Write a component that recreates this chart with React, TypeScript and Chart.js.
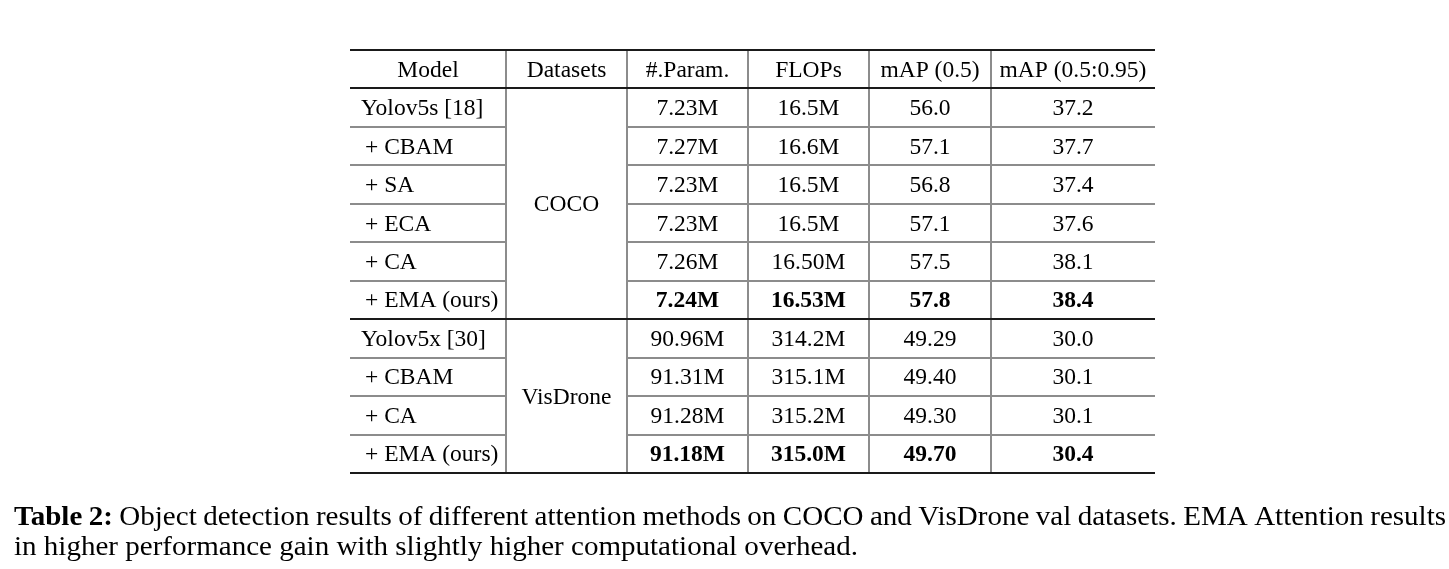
import React, { useEffect, useRef } from "react";
import { Chart, registerables } from "chart.js";

Chart.register(...registerables);

// ---- data ----
const headers = ["Model", "Datasets", "#.Param.", "FLOPs", "mAP (0.5)", "mAP (0.5:0.95)"];
const models = [
  "Yolov5s [18]", "+ CBAM", "+ SA", "+ ECA", "+ CA", "+ EMA (ours)",
  "Yolov5x [30]", "+ CBAM", "+ CA", "+ EMA (ours)",
];
const datasets = ["COCO", "VisDrone"];
const datasetRowCounts = [6, 4];
const params = ["7.23M", "7.27M", "7.23M", "7.23M", "7.26M", "7.24M", "90.96M", "91.31M", "91.28M", "91.18M"];
const flops = ["16.5M", "16.6M", "16.5M", "16.5M", "16.50M", "16.53M", "314.2M", "315.1M", "315.2M", "315.0M"];
const map50 = ["56.0", "57.1", "56.8", "57.1", "57.5", "57.8", "49.29", "49.40", "49.30", "49.70"];
const map5095 = ["37.2", "37.7", "37.4", "37.6", "38.1", "38.4", "30.0", "30.1", "30.1", "30.4"];
const boldRows = [5, 9];
const captionLabel = "Table 2:";
const captionLines = [
  "Object detection results of different attention methods on COCO and VisDrone val datasets. EMA Attention results",
  "in higher performance gain with slightly higher computational overhead.",
];

// ---- layout (pixel units on the chart's scales) ----
const W = 1449;
const H = 569;
const colEdges = [350, 506, 627, 748, 869, 991, 1155];
const tableTop = 50;
const tableBottom = 473;
const FONT = '"Liberation Serif", "Times New Roman", serif';
const CELL_SIZE = 23.5;
const CAP_SIZE = 27;
const CAP_LEFT = 14;
const CAP_RIGHT = 1446;
const CAP_LINE2_RIGHT = 858;
const CAP_BASE1 = 525;
const CAP_BASE2 = 555;
const DARK = "#1a1a1a";
const GREY = "#8c8c8c";

const tablePlugin = {
  id: "tablePlugin",
  beforeDraw(chart: any) {
    const ctx: CanvasRenderingContext2D = chart.ctx;
    const xs = chart.scales.x;
    const ys = chart.scales.y;
    const px = (v: number) => xs.getPixelForValue(v);
    const py = (v: number) => ys.getPixelForValue(v);
    const nRows = models.length + 1;
    const rowH = (tableBottom - tableTop) / nRows;
    const rowTop = (i: number) => tableTop + i * rowH; // i=0 header

    ctx.save();
    ctx.fillStyle = "#ffffff";
    ctx.fillRect(0, 0, chart.width, chart.height);

    // grey interior row lines (not through Datasets column)
    ctx.strokeStyle = GREY;
    ctx.lineWidth = 2;
    for (let r = 2; r <= models.length; r++) {
      if (r === datasetRowCounts[0] + 1) continue;
      const y = Math.round(py(rowTop(r)));
      ctx.beginPath();
      ctx.moveTo(px(colEdges[0]), y);
      ctx.lineTo(px(colEdges[1]), y);
      ctx.moveTo(px(colEdges[2]), y);
      ctx.lineTo(px(colEdges[6]), y);
      ctx.stroke();
    }
    // vertical grey lines
    for (let c = 1; c < colEdges.length - 1; c++) {
      const x = Math.round(px(colEdges[c]));
      ctx.beginPath();
      ctx.moveTo(x, py(tableTop));
      ctx.lineTo(x, py(tableBottom));
      ctx.stroke();
    }
    // dark rules
    ctx.strokeStyle = DARK;
    ctx.lineWidth = 2;
    [0, 1, datasetRowCounts[0] + 1, nRows].forEach((r) => {
      const y = Math.round(py(rowTop(r)));
      ctx.beginPath();
      ctx.moveTo(px(colEdges[0]), y);
      ctx.lineTo(px(colEdges[6]), y);
      ctx.stroke();
    });

    // text
    ctx.fillStyle = "#000000";
    ctx.textBaseline = "alphabetic";
    const base = (r: number) => py(rowTop(r) + rowH / 2 + 7.5);
    const center = (c: number) => px((colEdges[c] + colEdges[c + 1]) / 2);
    const cellFont = (bold: boolean) => `${bold ? "bold " : ""}${CELL_SIZE}px ${FONT}`;

    ctx.font = cellFont(false);
    ctx.textAlign = "center";
    headers.forEach((h, c) => ctx.fillText(h, center(c), base(0)));

    const cols = [params, flops, map50, map5095];
    models.forEach((m, i) => {
      const r = i + 1;
      const bold = boldRows.includes(i);
      ctx.font = cellFont(false);
      ctx.textAlign = "left";
      const indent = m.startsWith("+") ? 15 : 11;
      ctx.fillText(m, px(colEdges[0] + indent), base(r));
      ctx.textAlign = "center";
      ctx.font = cellFont(bold);
      cols.forEach((arr, k) => ctx.fillText(arr[i], center(k + 2), base(r)));
    });

    // merged dataset cells
    ctx.font = cellFont(false);
    ctx.textAlign = "center";
    let start = 1;
    datasets.forEach((d, k) => {
      const n = datasetRowCounts[k];
      const mid = rowTop(start) + (n * rowH) / 2;
      ctx.fillText(d, center(1), py(mid + 7.5));
      start += n;
    });

    // caption: line 2 natural (horizontally fitted), line 1 justified
    ctx.textAlign = "left";
    const regular = `${CAP_SIZE}px ${FONT}`;
    const boldF = `bold ${CAP_SIZE}px ${FONT}`;
    ctx.font = regular;
    const w2 = ctx.measureText(captionLines[1]).width;
    const sx = (CAP_LINE2_RIGHT - CAP_LEFT) / w2;

    const words: { t: string; bold: boolean }[] = [
      ...captionLabel.split(" ").map((t) => ({ t, bold: true })),
      ...captionLines[0].split(" ").map((t) => ({ t, bold: false })),
    ];
    const widths = words.map((w) => {
      ctx.font = w.bold ? boldF : regular;
      return ctx.measureText(w.t).width * sx;
    });
    const total = widths.reduce((a, b) => a + b, 0);
    const gap = (CAP_RIGHT - CAP_LEFT - total) / (words.length - 1);
    let x = CAP_LEFT;
    words.forEach((w, i) => {
      ctx.save();
      ctx.translate(px(x), py(CAP_BASE1));
      ctx.scale(sx, 1);
      ctx.font = w.bold ? boldF : regular;
      ctx.fillText(w.t, 0, 0);
      ctx.restore();
      x += widths[i] + gap;
    });

    ctx.save();
    ctx.translate(px(CAP_LEFT), py(CAP_BASE2));
    ctx.scale(sx, 1);
    ctx.font = regular;
    ctx.fillText(captionLines[1], 0, 0);
    ctx.restore();

    ctx.restore();
  },
};

export default function App() {
  const ref = useRef<HTMLCanvasElement | null>(null);
  useEffect(() => {
    document.body.style.margin = "0";
    if (!ref.current) return;
    const chart = new Chart(ref.current, {
      type: "scatter",
      data: { datasets: [{ data: [], pointRadius: 0 }] },
      options: {
        animation: false,
        responsive: false,
        layout: { padding: 0 },
        plugins: { legend: { display: false }, tooltip: { enabled: false } },
        scales: {
          x: { type: "linear", min: 0, max: W, display: false },
          y: { type: "linear", min: 0, max: H, reverse: true, display: false },
        },
      },
      plugins: [tablePlugin],
    });
    let alive = true;
    const fonts: any = (document as any).fonts;
    if (fonts && fonts.load) {
      Promise.all([
        fonts.load(`${CELL_SIZE}px "Liberation Serif"`),
        fonts.load(`bold ${CELL_SIZE}px "Liberation Serif"`),
      ])
        .then(() => {
          if (alive) chart.update("none");
        })
        .catch(() => {});
    }
    return () => {
      alive = false;
      chart.destroy();
    };
  }, []);
  return (
    <div style={{ width: W, height: H, background: "#fff" }}>
      <canvas ref={ref} width={W} height={H} style={{ display: "block" }} />
    </div>
  );
}
